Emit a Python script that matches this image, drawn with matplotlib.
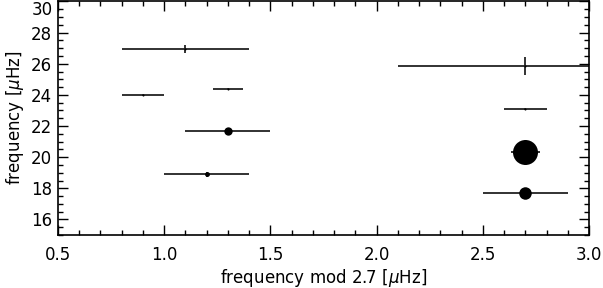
import numpy as np
import matplotlib
matplotlib.use("Agg")
from matplotlib import pyplot as plt
from matplotlib.ticker import MultipleLocator

# frequency mod 2.7 and frequency of each mode
fmod = [1.1, 0.9, 1.3, 1.3, 1.2, 2.7, 2.7, 2.7, 2.7]
freq = [26.95, 24.0, 24.4, 21.7, 18.9, 25.85, 23.1, 20.35, 17.72]
xerr = [0.3, 0.1, 0.07, 0.2, 0.2, 0.6, 0.1, 0.07, 0.2]
yerr = [0.25, 0.05, 0.05, 0.05, 0.15, 0.6, 0.05, 0.05, 0.05]
# marker size (relative amplitude)
amp = [1.5, 1.5, 1.5, 6, 3.5, 1.5, 1.5, 18, 9]

xticks = [0.5, 1.0, 1.5, 2.0, 2.5, 3.0]
yticks = [16, 18, 20, 22, 24, 26, 28, 30]

plt.rcParams['font.family'] = ['DejaVu Sans']
fig = plt.figure(figsize=(6.03, 2.88), dpi=100)
ax = fig.add_axes([0.096, 0.184, 0.881, 0.811])

for x, y, ex, ey, s in zip(fmod, freq, xerr, yerr, amp):
    ax.errorbar(x, y, xerr=ex, yerr=ey, fmt='o', ms=s, color='k',
                ecolor='#222222', elinewidth=1.3, capsize=0, mew=0)

ax.set_xlim(0.5, 3.0)
ax.set_ylim(15, 30)
ax.set_xticks(xticks)
ax.set_xticklabels([f"{v:.1f}" for v in xticks])
ax.set_yticks(yticks)
ax.xaxis.set_minor_locator(MultipleLocator(0.1))
ax.yaxis.set_minor_locator(MultipleLocator(0.5))
ax.tick_params(which='both', direction='in', top=True, right=True,
               labelsize=12, color='k', width=1.0)
ax.tick_params(which='major', length=7)
ax.tick_params(which='minor', length=3.5)
ax.tick_params(axis='x', pad=8)
ax.tick_params(axis='y', pad=4)
ax.yaxis.get_major_ticks()[-1].label1.set_verticalalignment('top')
for sp in ax.spines.values():
    sp.set_linewidth(1.2)

ax.set_xlabel(r'frequency mod 2.7 [$\mu$Hz]', fontsize=12, labelpad=2)
ax.set_ylabel(r'frequency [$\mu$Hz]', fontsize=12, labelpad=4)

fig.savefig("out.png", dpi=100)
